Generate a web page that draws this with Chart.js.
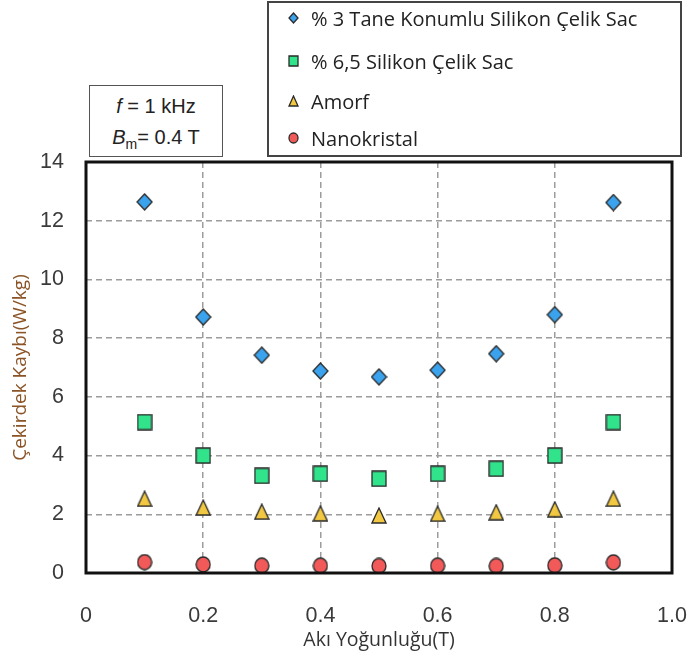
<!DOCTYPE html>
<html>
<head>
<meta charset="utf-8">
<script src="https://cdn.jsdelivr.net/npm/chart.js@4.4.1/dist/chart.umd.min.js"></script>
<style>
  html, body { margin: 0; padding: 0; background: #fff; }
  #wrap { position: relative; width: 689px; height: 664px; }
  #chart { position: absolute; left: 0; top: 0; }
  #legend {
    position: absolute; left: 267px; top: 1px; width: 411px; height: 152px;
    border: 2px solid #444; background: #fff;
    font-family: "Open Sans", sans-serif; font-size: 20px; color: #222;
  }
  .leg-item { position: absolute; left: 19px; display: flex; align-items: center; white-space: nowrap; }
  .leg-item canvas { margin-right: 12px; }
  #note {
    position: absolute; left: 89px; top: 85px; width: 134px; height: 72px;
    border: 1.5px solid #555; background: #fff;
    font-family: "Liberation Sans", Arial, sans-serif; font-size: 20px; color: #222;
    text-align: center; line-height: 31px; padding-top: 5px; box-sizing: border-box;
  }
</style>
</head>
<body>
<div id="wrap">
  <canvas id="chart" width="689" height="664"></canvas>
  <div id="note">
    <div><i>f</i> = 1 kHz</div>
    <div><i>B</i><sub style="font-size:14px">m</sub>= 0.4 T</div>
  </div>
  <div id="legend"></div>
</div>
<script>
// ── Data ──────────────────────────────────────────────────────
const fluxDensity  = [0.1, 0.2, 0.3, 0.4, 0.5, 0.6, 0.7, 0.8, 0.9];
const seriesNames  = ['% 3 Tane Konumlu Silikon Çelik Sac', '% 6,5 Silikon Çelik Sac', 'Amorf', 'Nanokristal'];
const lossGO3      = [12.64, 8.72, 7.42, 6.88, 6.68, 6.91, 7.47, 8.80, 12.62];
const lossSi65     = [5.14, 4.00, 3.31, 3.38, 3.21, 3.38, 3.55, 4.00, 5.14];
const lossAmorf    = [2.53, 2.23, 2.09, 2.03, 1.96, 2.02, 2.07, 2.17, 2.53];
const lossNano     = [0.37, 0.29, 0.25, 0.25, 0.24, 0.25, 0.24, 0.26, 0.36];
const xTicks       = [0, 0.2, 0.4, 0.6, 0.8, 1.0];
const yTicks       = [0, 2, 4, 6, 8, 10, 12, 14];

// ── Marker images (slightly tall, like the scanned figure) ───
function makeMarker(shape, fill, w, h) {
  const c = document.createElement('canvas');
  c.width = w + 2; c.height = h + 2;
  const g = c.getContext('2d');
  const cx = c.width / 2, cy = c.height / 2;
  g.beginPath();
  if (shape === 'diamond') {
    g.moveTo(cx, cy - h / 2); g.lineTo(cx + w / 2, cy);
    g.lineTo(cx, cy + h / 2); g.lineTo(cx - w / 2, cy);
    g.closePath();
  } else if (shape === 'square') {
    g.rect(cx - w / 2, cy - h / 2, w, h);
  } else if (shape === 'triangle') {
    g.moveTo(cx, cy - h / 2); g.lineTo(cx + w / 2, cy + h / 2);
    g.lineTo(cx - w / 2, cy + h / 2); g.closePath();
  } else {
    g.ellipse(cx, cy, w / 2, h / 2, 0, 0, Math.PI * 2);
  }
  g.fillStyle = fill;
  g.fill();
  g.lineWidth = 1.3;
  g.strokeStyle = '#2a2a2a';
  g.stroke();
  return c;
}

const STYLES = [
  { shape: 'diamond',  fill: '#3ba3ee', w: 15, h: 16 },
  { shape: 'square',   fill: '#31e38b', w: 14, h: 15 },
  { shape: 'triangle', fill: '#f2c842', w: 14, h: 15 },
  { shape: 'circle',   fill: '#f25a5a', w: 14, h: 15 }
];
const seriesValues = [lossGO3, lossSi65, lossAmorf, lossNano];

const datasets = seriesValues.map(function (vals, i) {
  const s = STYLES[i];
  return {
    label: seriesNames[i],
    data: fluxDensity.map(function (x, k) { return { x: x, y: vals[k] }; }),
    pointStyle: makeMarker(s.shape, s.fill, s.w, s.h),
    showLine: false
  };
});

// ── Frame around the plot area ───────────────────────────────
const framePlugin = {
  id: 'frame',
  afterDatasetsDraw(chart) {
    const a = chart.chartArea, ctx = chart.ctx;
    ctx.save();
    ctx.lineWidth = 3;
    ctx.strokeStyle = '#111';
    ctx.strokeRect(a.left, a.top, a.right - a.left, a.bottom - a.top);
    ctx.restore();
  }
};

const tickFont = { family: '"Liberation Sans", Arial, sans-serif', size: 21.5 };

new Chart(document.getElementById('chart'), {
  type: 'scatter',
  data: { datasets: datasets },
  options: {
    responsive: false,
    animation: false,
    layout: { padding: { top: 162, right: 17, left: 0, bottom: 0 } },
    plugins: { legend: { display: false }, tooltip: { enabled: false } },
    scales: {
      x: {
        type: 'linear', min: 0, max: 1,
        afterFit(scale) { scale.height = 91; scale.paddingLeft = 0; scale.paddingRight = 0; },
        afterBuildTicks(scale) { scale.ticks = xTicks.map(function (v) { return { value: v }; }); },
        ticks: {
          padding: 30, color: '#3a3a3a', font: tickFont, maxRotation: 0,
          callback: function (v) { return v === 0 ? '0' : v.toFixed(1); }
        },
        grid: {
          drawTicks: false, color: function (c) { return (c.tick.value === 0 || c.tick.value === 1) ? 'transparent' : '#9c9c9c'; },
          lineWidth: 1.5
        },
        border: { display: false, dash: [6, 4] },
        title: {
          display: true, text: 'Akı Yoğunluğu(T)', color: '#333',
          font: { family: '"Open Sans", sans-serif', size: 19.5 },
          padding: { top: 0, bottom: 12 }
        }
      },
      y: {
        type: 'linear', min: 0, max: 14,
        afterFit(scale) { scale.width = 86; scale.paddingTop = 0; scale.paddingBottom = 0; },
        afterBuildTicks(scale) { scale.ticks = yTicks.map(function (v) { return { value: v }; }); },
        ticks: { padding: 22, color: '#3a3a3a', font: tickFont },
        grid: {
          drawTicks: false, color: function (c) { return (c.tick.value === 0 || c.tick.value === 14) ? 'transparent' : '#9c9c9c'; },
          lineWidth: 1.5
        },
        border: { display: false, dash: [6, 4] },
        title: {
          display: true, text: 'Çekirdek Kaybı(W/kg)', color: '#8a5426',
          font: { family: '"Open Sans", sans-serif', size: 19 },
          padding: { top: 9, bottom: 0 }
        }
      }
    }
  },
  plugins: [framePlugin]
});

// ── Legend box (built from the same series names / markers) ──
const legendEl = document.getElementById('legend');
const legendTops = [15, 58, 98, 135];
seriesNames.forEach(function (name, i) {
  const s = STYLES[i];
  const item = document.createElement('div');
  item.className = 'leg-item';
  item.style.top = (legendTops[i] - 14) + 'px';
  item.style.height = '28px';
  item.appendChild(makeMarker(s.shape, s.fill, 9, 10));
  const span = document.createElement('span');
  span.textContent = name;
  item.appendChild(span);
  legendEl.appendChild(item);
});
</script>
</body>
</html>
